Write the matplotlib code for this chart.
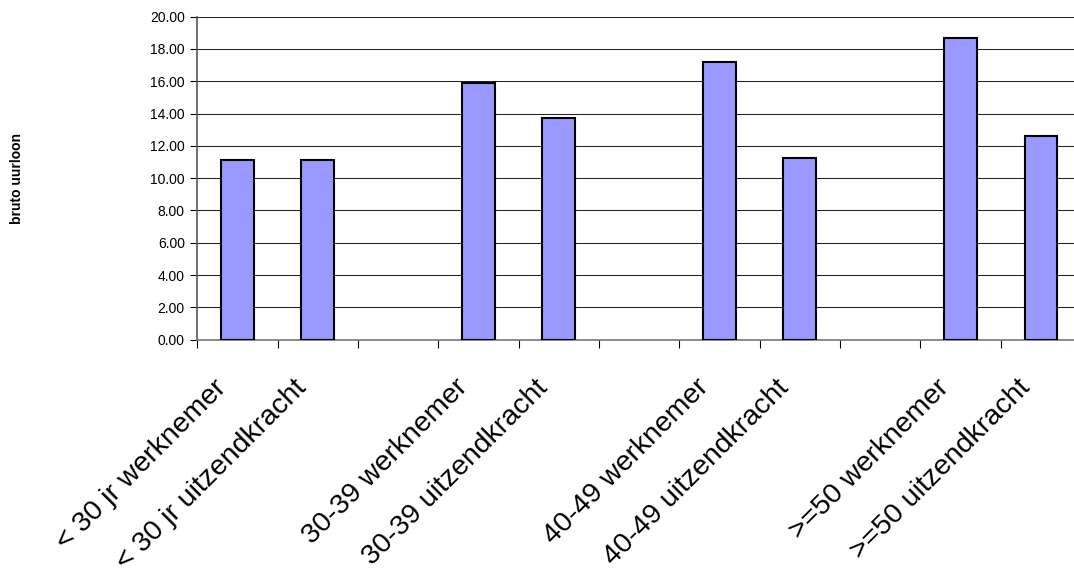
import matplotlib
matplotlib.use("Agg")
import matplotlib.pyplot as plt
import matplotlib.transforms as mtransforms
import numpy as np

plt.rcParams['font.family'] = ['Liberation Sans', 'DejaVu Sans']

categories = ["< 30 jr werknemer", "< 30 jr uitzendkracht", "",
              "30-39 werknemer", "30-39 uitzendkracht", "",
              "40-49 werknemer", "40-49 uitzendkracht", "",
              ">=50 werknemer", ">=50 uitzendkracht"]
values = [11.15, 11.15, np.nan,
          15.87, 13.71, np.nan,
          17.18, 11.23, np.nan,
          18.66, 12.61]
y_ticks = [0, 2, 4, 6, 8, 10, 12, 14, 16, 18, 20]
y_label = "bruto uurloon"

W, H = 1074, 577
fig = plt.figure(figsize=(W / 100, H / 100), dpi=100)
left, right, top, bottom = 197.3, 197.3 + 11 * 80.35, 16.7, 339.7
ax = fig.add_axes([left / W, 1 - bottom / H, (right - left) / W, (bottom - top) / H])

x = np.arange(len(categories))
vals = np.array(values, dtype=float)
mask = ~np.isnan(vals)
ax.bar(x[mask], vals[mask], width=0.41, color="#9999FF", edgecolor="black",
       linewidth=1.5, zorder=3)

ax.set_xlim(-0.5, len(categories) - 0.5)
ax.set_ylim(0, 20)
ax.set_yticks(y_ticks)
ax.set_yticklabels([f"{v:.2f}" for v in y_ticks], fontsize=10)
ax.yaxis.grid(True, color="#222222", linewidth=0.75, zorder=0)
ax.set_axisbelow(True)

ax.set_xticks(np.arange(len(categories) + 1) - 0.5)
ax.set_xticklabels([])
ax.tick_params(axis="x", direction="out", length=6, width=0.8, color="black")
ax.tick_params(axis="y", direction="out", length=5, width=0.8, color="black", pad=4)

for s in ["top", "right"]:
    ax.spines[s].set_visible(False)
ax.spines["left"].set_color("#555555")
ax.spines["bottom"].set_color("#777777")
ax.spines["left"].set_linewidth(1.2)
ax.spines["bottom"].set_linewidth(1.2)

trans = mtransforms.blended_transform_factory(ax.transData, ax.transAxes)
offset = mtransforms.ScaledTranslation(-15 / 100, -44 / 100, fig.dpi_scale_trans)
for xi, lab in zip(x, categories):
    if lab:
        ax.text(xi, 0, lab, transform=trans + offset, rotation=45,
                rotation_mode="anchor", ha="right", va="center", fontsize=20.5)

fig.text(17 / W, 1 - 178 / H, y_label, rotation=90, ha="center", va="center",
         fontsize=10, fontweight="bold")

fig.savefig("out.png", dpi=100)
